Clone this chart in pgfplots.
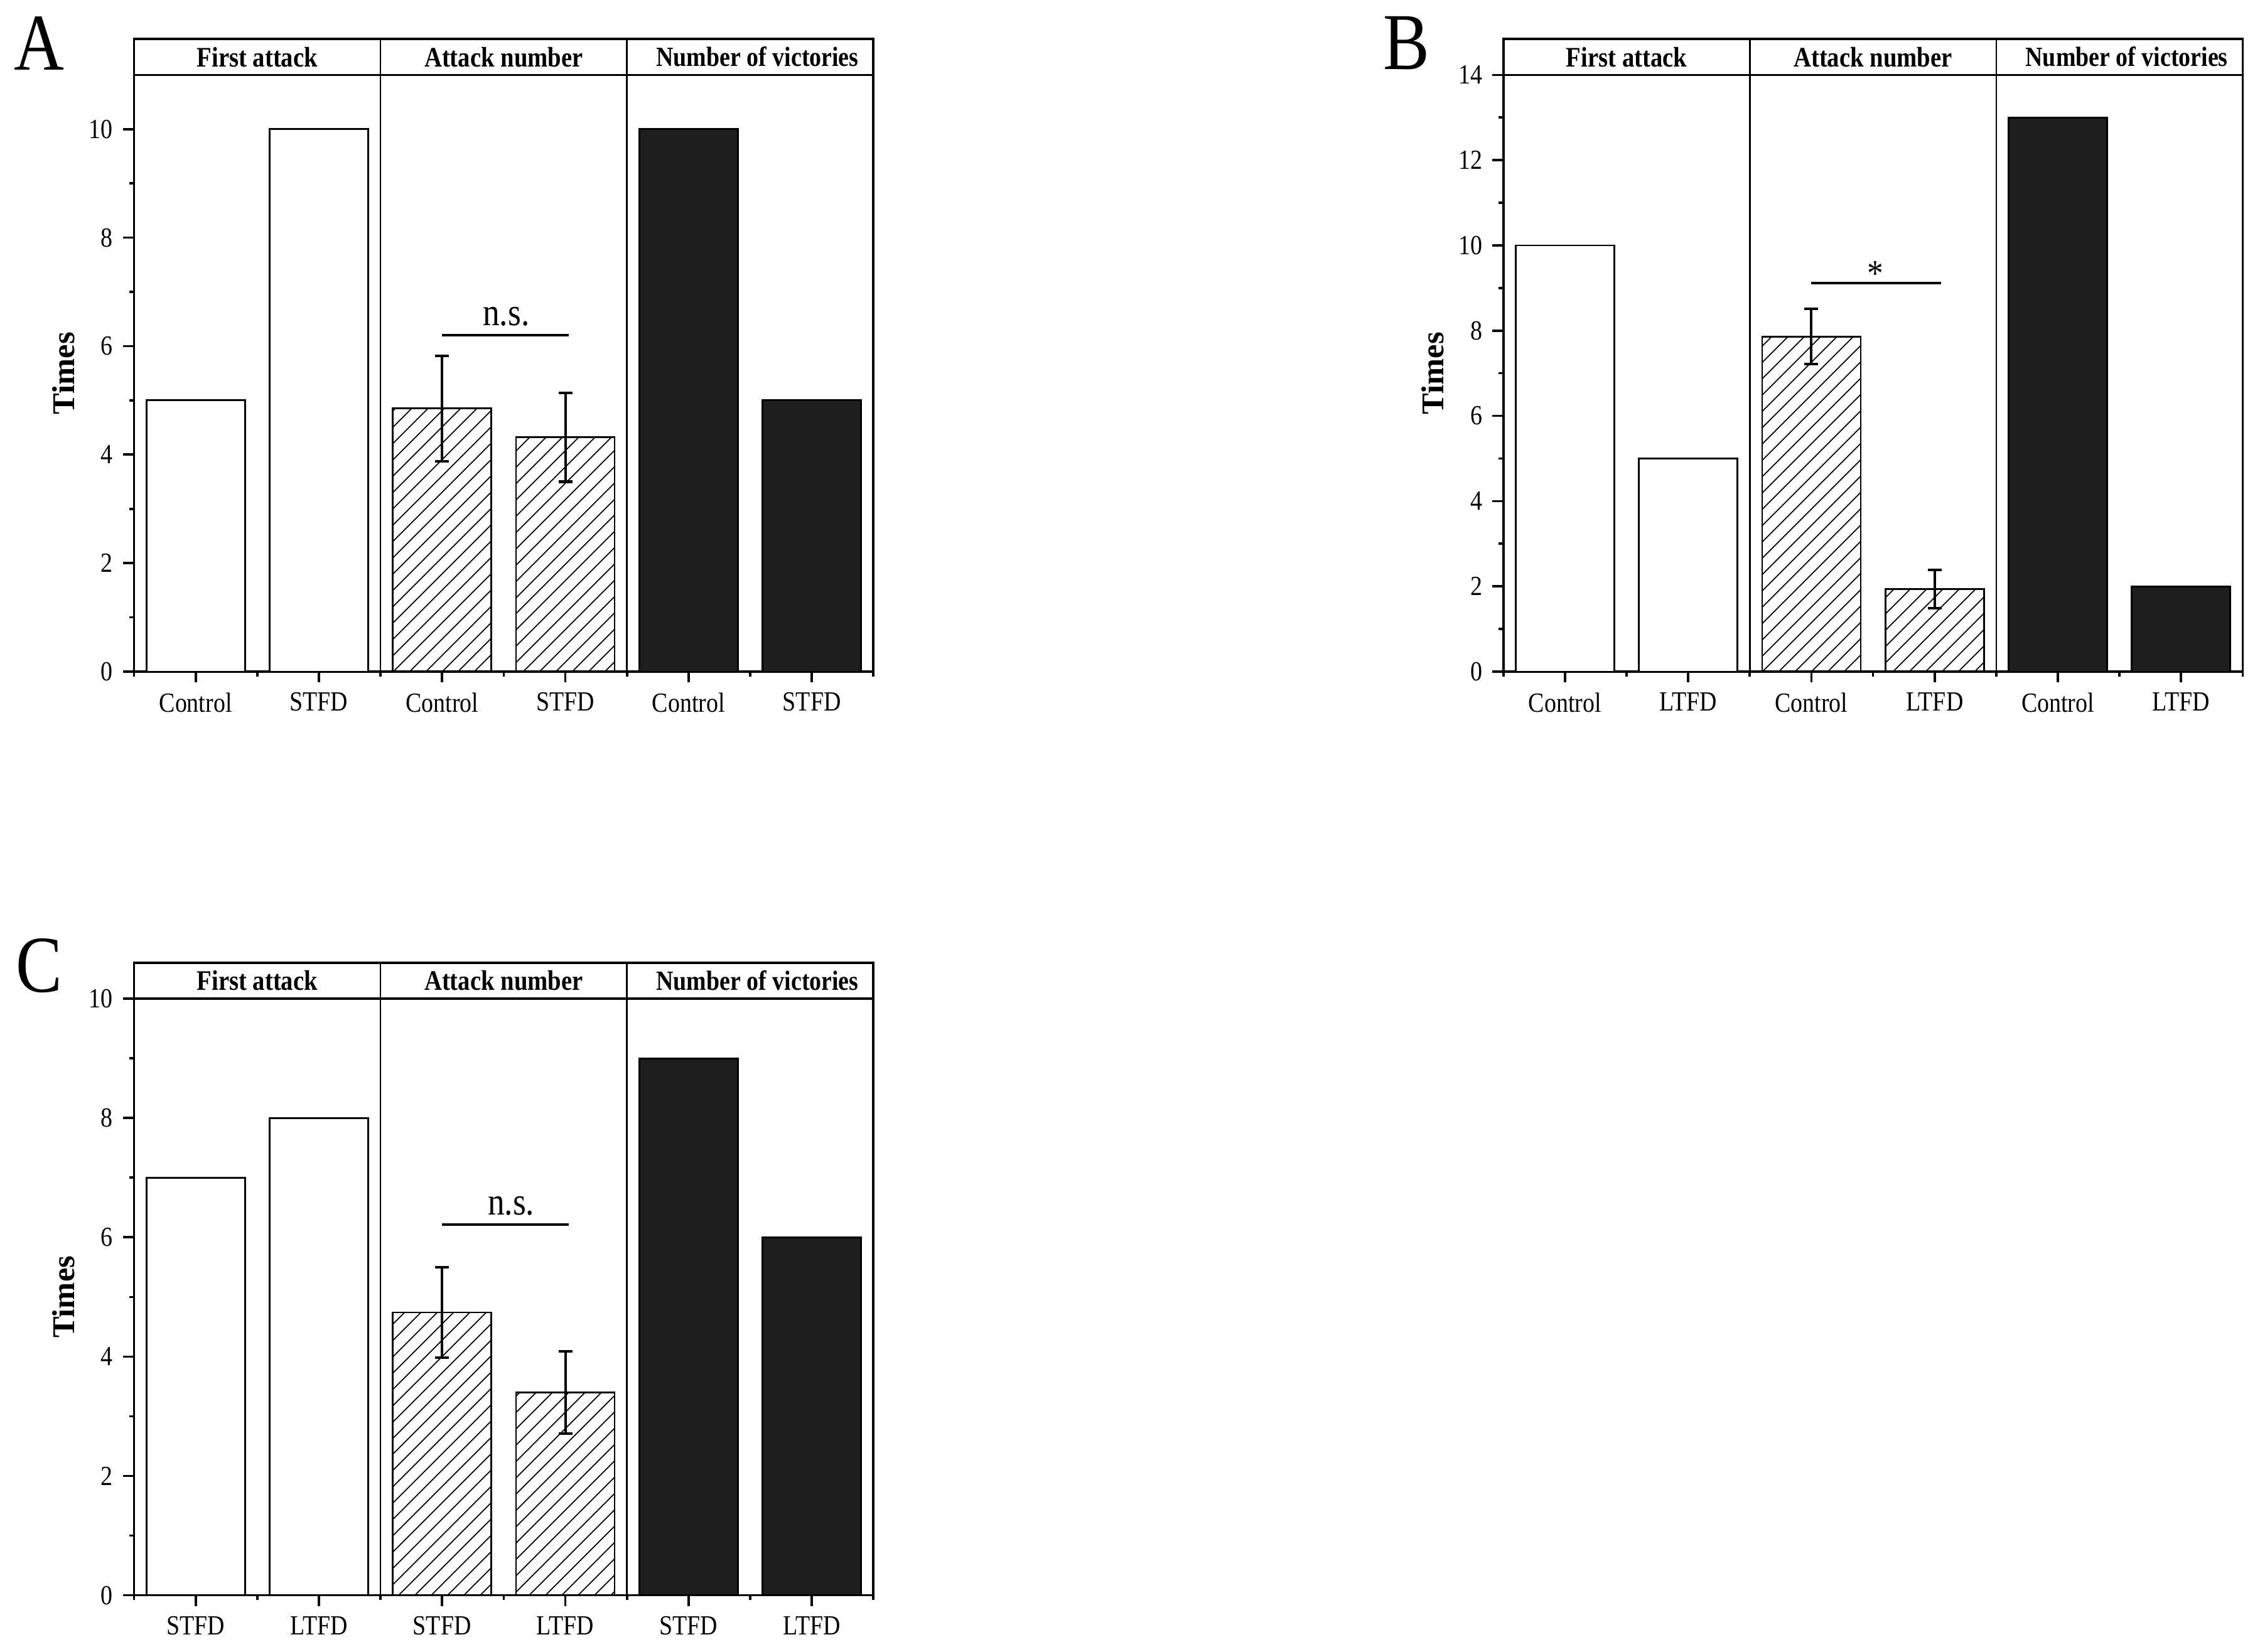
\documentclass[border=0pt]{standalone}
\usepackage{pgfplots}
\pgfplotsset{compat=1.18}
\usetikzlibrary{patterns.meta}
\usepackage{fontspec}
\setmainfont{Liberation Serif}[FakeStretch=0.86]
\newfontfamily\plainserif{Liberation Serif}
\definecolor{darkbar}{HTML}{1E1E1E}

\pgfplotsset{
  panel/.style={
    scale only axis, width=256.5pt, height=207pt,
    anchor=south west,
    xmin=0.5, xmax=6.5, xtick={1,...,6},
    minor xtick={0.5,1.5,2.5,3.5,4.5,5.5,6.5},
    ymin=0,
    tick align=outside, tick pos=left,
    major tick length=3.8pt, minor tick length=1.7pt,
    every tick/.style={black, line width=0.8pt},
    axis line style={line width=0.8pt},
    clip=false,
    tick label style={font=\fontsize{9.6}{11}\selectfont},
    /pgf/number format/assume math mode=true,
    ylabel={Times},
    ylabel style={at={([xshift=-24.5pt]axis description cs:0,0.5)}, anchor=center,
      font=\plainserif\bfseries\fontsize{11}{13}\selectfont},
  },
  whitebar/.style={ybar, bar width=0.8, bar shift=0pt, draw=black, line width=0.6pt, fill=white},
  hatchbar/.style={ybar, bar width=0.8, bar shift=0pt, draw=black, line width=0.6pt,
    pattern={Lines[angle=45, distance=4pt, line width=0.4pt]}},
  darkbarstyle/.style={ybar, bar width=0.8, bar shift=0pt, draw=black, line width=0.6pt, fill=darkbar},
}

\newcommand{\header}{%
  \draw[line width=0.8pt] (rel axis cs:0,1) rectangle ([yshift=12.5pt]rel axis cs:1,1);
  \draw[line width=0.6pt] (rel axis cs:0.33333,0) -- ([yshift=12.5pt]rel axis cs:0.33333,1);
  \draw[line width=0.6pt] (rel axis cs:0.66667,0) -- ([yshift=12.5pt]rel axis cs:0.66667,1);
  \node[font=\bfseries\fontsize{9.8}{11}\selectfont] at ([yshift=6.25pt]rel axis cs:0.16667,1) {First attack};
  \node[font=\bfseries\fontsize{9.8}{11}\selectfont] at ([yshift=6.25pt]rel axis cs:0.5,1) {Attack number};
  \node[font=\bfseries\fontsize{9.6}{11}\selectfont] at ([yshift=6.25pt,xshift=2.5pt]rel axis cs:0.83333,1) {Number of victories};
}

\begin{document}
\begin{tikzpicture}
\path[use as bounding box] (0,0) rectangle (784pt,-573pt);

\node[font=\fontsize{28}{30}\selectfont] at (13.5pt,-15pt) {A};
\node[font=\fontsize{28}{30}\selectfont] at (488pt,-15pt) {B};
\node[font=\fontsize{28}{30}\selectfont] at (13.5pt,-335pt) {C};

% Panel A
\begin{axis}[panel, at={(46.5pt,-233pt)},
  ymax=11, ytick={0,2,...,10}, minor ytick={1,3,...,9},
  xticklabels={Control,STFD,Control,STFD,Control,STFD}]
\addplot[whitebar] coordinates {(1,5) (2,10)};
\addplot[hatchbar, error bars/.cd, y dir=both, y explicit,
  error bar style={line width=0.9pt},
  error mark options={rotate=90, mark size=2.4pt, line width=0.9pt}]
  coordinates {(3,4.85) +- (0,0.97) (4,4.32) +- (0,0.82)};
\addplot[darkbarstyle] coordinates {(5,10) (6,5)};
\header
\draw[line width=0.9pt] (axis cs:3,6.2) -- (axis cs:4.03,6.2);
\node[font=\fontsize{13.5}{15}\selectfont, anchor=base] at ([yshift=3.5pt]axis cs:3.52,6.2) {n.s.};
\end{axis}

% Panel B
\begin{axis}[panel, at={(521.5pt,-233pt)},
  ymax=14, ytick={0,2,...,14}, minor ytick={1,3,...,13},
  xticklabels={Control,LTFD,Control,LTFD,Control,LTFD}]
\addplot[whitebar] coordinates {(1,10) (2,5)};
\addplot[hatchbar, error bars/.cd, y dir=both, y explicit,
  error bar style={line width=0.9pt},
  error mark options={rotate=90, mark size=2.4pt, line width=0.9pt}]
  coordinates {(3,7.86) +- (0,0.65) (4,1.94) +- (0,0.45)};
\addplot[darkbarstyle] coordinates {(5,13) (6,2)};
\header
\draw[line width=0.9pt] (axis cs:3,9.12) -- (axis cs:4.05,9.12);
\node[font=\fontsize{13}{15}\selectfont, anchor=base] at ([yshift=-1pt]axis cs:3.52,9.12) {*};
\end{axis}

% Panel C
\begin{axis}[panel, at={(46.5pt,-553.5pt)},
  ymax=10, ytick={0,2,...,10}, minor ytick={1,3,...,9},
  xticklabels={STFD,LTFD,STFD,LTFD,STFD,LTFD}]
\addplot[whitebar] coordinates {(1,7) (2,8)};
\addplot[hatchbar, error bars/.cd, y dir=both, y explicit,
  error bar style={line width=0.9pt},
  error mark options={rotate=90, mark size=2.4pt, line width=0.9pt}]
  coordinates {(3,4.74) +- (0,0.76) (4,3.40) +- (0,0.69)};
\addplot[darkbarstyle] coordinates {(5,9) (6,6)};
\header
\draw[line width=0.9pt] (axis cs:3,6.21) -- (axis cs:4.03,6.21);
\node[font=\fontsize{13.5}{15}\selectfont, anchor=base] at ([yshift=3.5pt]axis cs:3.56,6.21) {n.s.};
\end{axis}
\end{tikzpicture}
\end{document}
